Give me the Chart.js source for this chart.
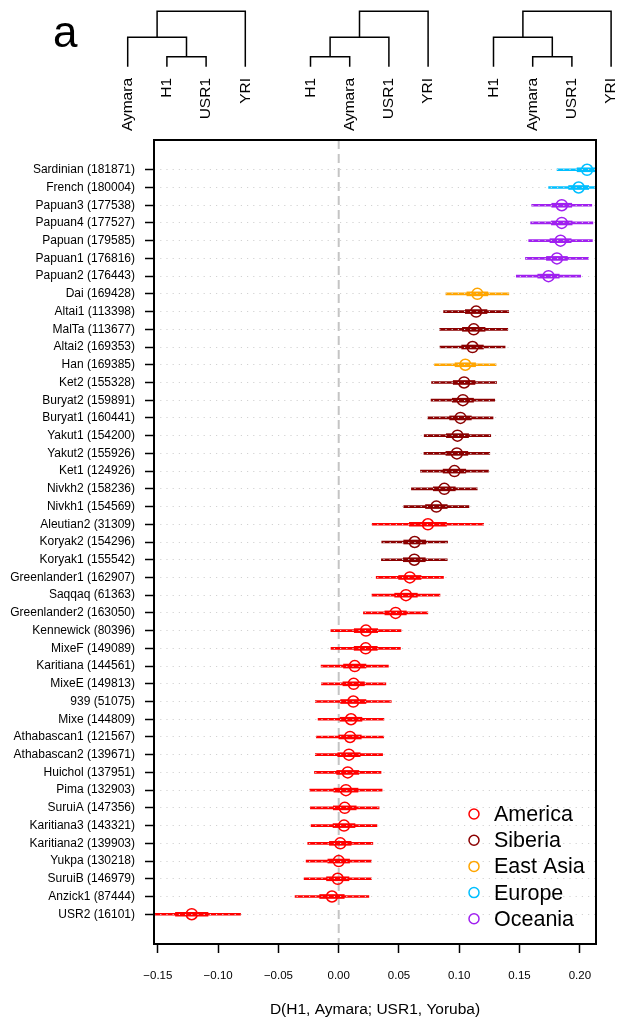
<!DOCTYPE html>
<html><head><meta charset="utf-8">
<script src="https://cdn.jsdelivr.net/npm/chart.js@4.4.1/dist/chart.umd.min.js"></script>
<style>html,body{margin:0;padding:0;background:#fff;}#wrap{width:621px;height:1026px;position:relative;}</style>
</head><body><div id="wrap"><canvas id="c" width="621" height="1026"></canvas></div>
<script>
// ---------------- DATA ----------------
const populations = ['Sardinian','French','Papuan3','Papuan4','Papuan','Papuan1','Papuan2','Dai','Altai1','MalTa','Altai2','Han','Ket2','Buryat2','Buryat1','Yakut1','Yakut2','Ket1','Nivkh2','Nivkh1','Aleutian2','Koryak2','Koryak1','Greenlander1','Saqqaq','Greenlander2','Kennewick','MixeF','Karitiana','MixeE','939','Mixe','Athabascan1','Athabascan2','Huichol','Pima','SuruiA','Karitiana3','Karitiana2','Yukpa','SuruiB','Anzick1','USR2'];
const snpCounts = [181871,180004,177538,177527,179585,176816,176443,169428,113398,113677,169353,169385,155328,159891,160441,154200,155926,124926,158236,154569,31309,154296,155542,162907,61363,163050,80396,149089,144561,149813,51075,144809,121567,139671,137951,132903,147356,143321,139903,130218,146979,87444,16101];
const dValues = [0.206,0.199,0.185,0.185,0.184,0.181,0.174,0.115,0.114,0.112,0.111,0.105,0.104,0.103,0.101,0.0985,0.098,0.096,0.0876,0.081,0.074,0.063,0.0627,0.059,0.0558,0.0472,0.0226,0.0224,0.0133,0.0124,0.0121,0.0102,0.0094,0.0085,0.0075,0.006,0.005,0.0044,0.0013,0.0,-0.0008,-0.0056,-0.1219];
const stdErrors = [0.0083,0.0083,0.0083,0.0086,0.0088,0.0087,0.0089,0.0087,0.009,0.0094,0.009,0.0085,0.009,0.0088,0.009,0.0092,0.0091,0.0094,0.0091,0.009,0.0154,0.0091,0.0091,0.0093,0.0094,0.0089,0.0097,0.0096,0.0093,0.0089,0.0105,0.0091,0.0093,0.0093,0.0092,0.01,0.0095,0.0091,0.009,0.009,0.0093,0.0102,0.0135];
const regions = ['Europe','Europe','Oceania','Oceania','Oceania','Oceania','Oceania','East Asia','Siberia','Siberia','Siberia','East Asia','Siberia','Siberia','Siberia','Siberia','Siberia','Siberia','Siberia','Siberia','America','Siberia','Siberia','America','America','America','America','America','America','America','America','America','America','America','America','America','America','America','America','America','America','America','America'];
const regionNames = ['America','Siberia','East Asia','Europe','Oceania'];
const regionColors = ['#FF0000','#8B0000','#FFA500','#00BFFF','#A020F0'];
const xTicks = [-0.15,-0.10,-0.05,0.00,0.05,0.10,0.15,0.20];
const xTitle = 'D(H1, Aymara; USR1, Yoruba)';
const panelLetter = 'a';
const trees = [
  [['Aymara',['H1','USR1']],'YRI'],
  [[['H1','Aymara'],'USR1'],'YRI'],
  [['H1',['Aymara','USR1']],'YRI']
];

// ---------------- CHART ----------------
const FONT = '"Liberation Sans", Arial, Helvetica, sans-serif';
const rowColors = regions.map(r => regionColors[regionNames.indexOf(r)]);
const idx = populations.map((_, i) => i);
const rowLabels = populations.map((p, i) => p + ' (' + snpCounts[i] + ')');
const fmt = v => (v < 0 ? '\u2212' : '') + Math.abs(v).toFixed(2);

const framePlugin = {
  id: 'frame',
  beforeDatasetsDraw(chart) {
    const {ctx, chartArea: a, scales: {x}} = chart;
    const px = x.getPixelForValue(0);
    ctx.save();
    ctx.strokeStyle = '#c4c4c4'; ctx.lineWidth = 2; ctx.setLineDash([9, 5]);
    ctx.beginPath(); ctx.moveTo(px, a.top); ctx.lineTo(px, a.bottom); ctx.stroke();
    ctx.restore();
  },
  afterDraw(chart) {
    const {ctx, chartArea: a} = chart;
    ctx.save();
    ctx.strokeStyle = '#000'; ctx.lineWidth = 2; ctx.setLineDash([]);
    ctx.strokeRect(a.left, a.top, a.right - a.left, a.bottom - a.top);
    ctx.fillStyle = '#000';
    ctx.font = '15.5px ' + FONT; ctx.textAlign = 'center'; ctx.textBaseline = 'middle';
    ctx.fillText(xTitle, (a.left + a.right) / 2, 1010);
    ctx.font = '44px ' + FONT; ctx.textAlign = 'left'; ctx.textBaseline = 'alphabetic';
    ctx.fillText(panelLetter, 53, 47);
    const lx = 474, ly0 = 814, step = 26.2;
    regionNames.forEach((n, i) => {
      const y = ly0 + i * step;
      ctx.beginPath(); ctx.strokeStyle = regionColors[i]; ctx.lineWidth = 1.5;
      ctx.arc(lx, y, 5, 0, Math.PI * 2); ctx.stroke();
      ctx.fillStyle = '#000'; ctx.font = '21.5px ' + FONT; ctx.textAlign = 'left'; ctx.textBaseline = 'middle';
      ctx.fillText(n, lx + 20, y + 1);
    });
    const levels = [66.7, 56.7, 37.3, 11.3];
    const x0s = [127.7, 310.5, 493.5], sp = 39.2;
    trees.forEach((t, ti) => {
      let leaf = 0;
      ctx.strokeStyle = '#000'; ctx.lineWidth = 1.5;
      const walk = node => {
        if (typeof node === 'string') {
          const x = x0s[ti] + sp * (leaf++);
          ctx.save(); ctx.translate(x, 78); ctx.rotate(-Math.PI / 2);
          ctx.fillStyle = '#000'; ctx.font = '15.5px ' + FONT; ctx.textAlign = 'right'; ctx.textBaseline = 'middle';
          ctx.fillText(node, 0, 0); ctx.restore();
          return {x, h: 0};
        }
        const c1 = walk(node[0]), c2 = walk(node[1]);
        const h = Math.max(c1.h, c2.h) + 1, y = levels[h];
        ctx.beginPath();
        ctx.moveTo(c1.x, levels[c1.h]); ctx.lineTo(c1.x, y); ctx.lineTo(c2.x, y); ctx.lineTo(c2.x, levels[c2.h]);
        ctx.stroke();
        return {x: (c1.x + c2.x) / 2, h};
      };
      walk(t);
    });
    ctx.restore();
  }
};

new Chart(document.getElementById('c'), {
  type: 'bar',
  data: {
    datasets: [
      { label: '3 SE', data: idx.map(i => ({y: i, x: [dValues[i] - 3 * stdErrors[i], dValues[i] + 3 * stdErrors[i]]})),
        backgroundColor: rowColors, barThickness: 2, grouped: false, order: 3 },
      { label: '1 SE', data: idx.map(i => ({y: i, x: [dValues[i] - stdErrors[i], dValues[i] + stdErrors[i]]})),
        backgroundColor: rowColors, barThickness: 4, grouped: false, order: 2 },
      { type: 'scatter', label: 'D', data: idx.map(i => ({x: dValues[i], y: i})),
        pointStyle: 'circle', pointRadius: 5.5, pointBorderWidth: 1.5, pointBorderColor: rowColors,
        pointBackgroundColor: 'rgba(0,0,0,0)', order: 1 }
    ]
  },
  options: {
    indexAxis: 'y',
    animation: false, responsive: false, maintainAspectRatio: false, devicePixelRatio: 1,
    layout: {padding: {left: 0, right: 25, top: 140, bottom: 0}},
    plugins: {legend: {display: false}, tooltip: {enabled: false}},
    scales: {
      x: {
        type: 'linear', min: -0.1532, max: 0.2134, offset: false,
        afterBuildTicks: s => { s.ticks = xTicks.map(v => ({value: v})); },
        afterFit: s => { s.height = 82; },
        grid: {offset: false, drawOnChartArea: false, drawTicks: true, tickLength: 9, tickColor: '#000', tickWidth: 1.5},
        border: {display: false},
        ticks: {padding: 16, color: '#000', font: {family: FONT, size: 11.5}, callback: v => fmt(v), maxRotation: 0, autoSkip: false}
      },
      y: {
        type: 'linear', reverse: true, min: -1.68, max: 43.68, offset: false,
        afterBuildTicks: s => { s.ticks = idx.map(i => ({value: i})); },
        afterFit: s => { s.width = 154; },
        grid: {offset: false, color: '#d2d2d2', lineWidth: 1, tickLength: 9, tickColor: '#000', tickWidth: 1.5, tickBorderDash: [], z: 1},
        border: {display: false, dash: [1.2, 5]},
        ticks: {padding: 10, color: '#000', font: {family: FONT, size: 12}, autoSkip: false, callback: v => rowLabels[v]}
      }
    }
  },
  plugins: [framePlugin]
});
</script></body></html>
